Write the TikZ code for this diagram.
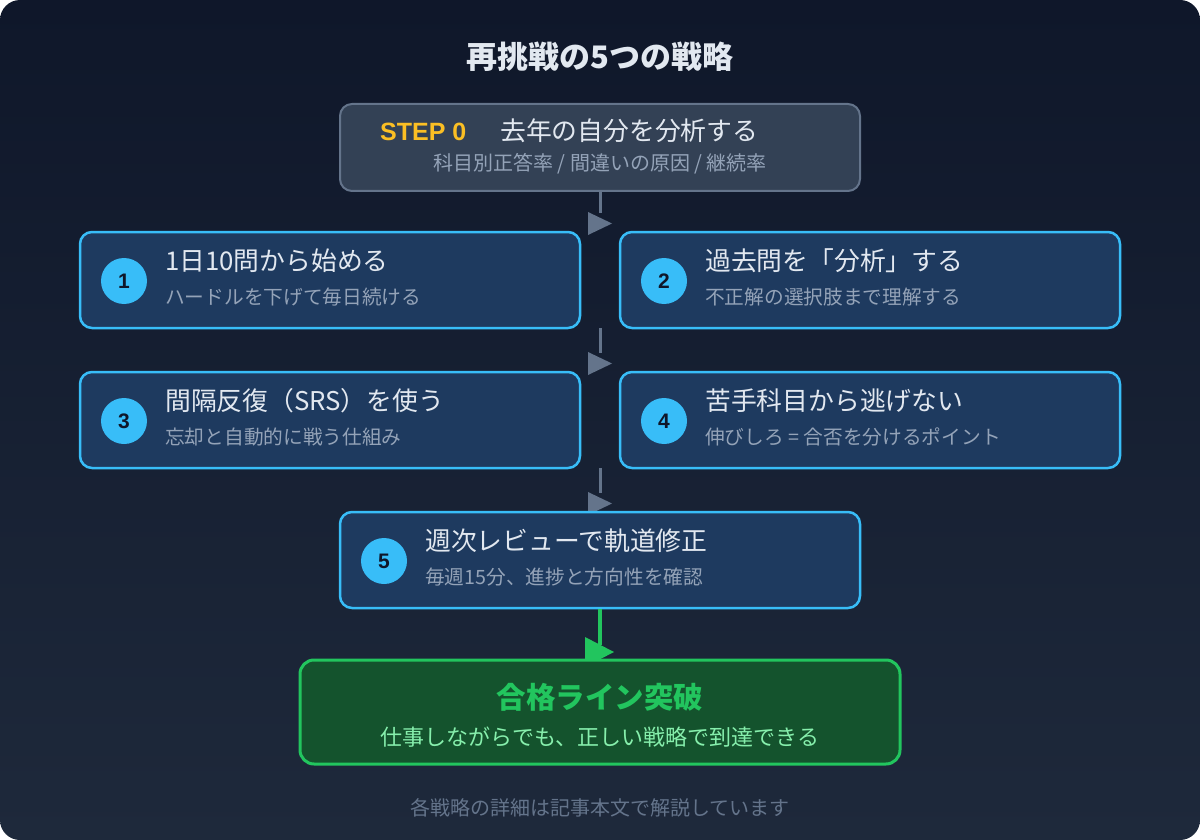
\documentclass[tikz,border=0pt]{standalone}
\usepackage{fontspec}
\setmainfont{Noto Sans CJK JP}
\newfontfamily\latinfont{Liberation Sans}
\definecolor{bgtop}{HTML}{0F172A}
\definecolor{bgbot}{HTML}{1E293B}
\definecolor{slatebox}{HTML}{334155}
\definecolor{slateline}{HTML}{64748B}
\definecolor{cardfill}{HTML}{1E3A5F}
\definecolor{sky}{HTML}{38BDF8}
\definecolor{txtmain}{HTML}{E2E8F0}
\definecolor{txtsub}{HTML}{94A3B8}
\definecolor{txtfoot}{HTML}{64748B}
\definecolor{amber}{HTML}{FBBF24}
\definecolor{finfill}{HTML}{14532D}
\definecolor{green}{HTML}{22C55E}
\definecolor{lgreen}{HTML}{86EFAC}
\definecolor{darknum}{HTML}{0F172A}
\tikzset{
  stepbox/.style={draw=slateline,fill=slatebox,line width=2pt,rounded corners=12pt,minimum width=520pt,minimum height=87pt,inner sep=0pt},
  card/.style={draw=sky,fill=cardfill,line width=2.5pt,rounded corners=12pt,minimum width=500pt,minimum height=96pt,inner sep=0pt},
  finbox/.style={draw=green,fill=finfill,line width=3pt,rounded corners=14pt,minimum width=600pt,minimum height=104pt,inner sep=0pt},
  numc/.style={circle,fill=sky,minimum size=46pt,inner sep=0pt,text=darknum,font=\latinfont\bfseries\fontsize{21}{21}\selectfont},
  ttl/.style={anchor=west,inner sep=0pt,text=txtmain,font=\fontsize{25.8}{26}\selectfont},
  sub/.style={anchor=west,inner sep=0pt,text=txtsub,font=\fontsize{19.7}{20}\selectfont},
  grayline/.style={draw=slateline,line width=3pt},
  graytri/.style={fill=slateline},
  greenline/.style={draw=green,line width=4pt},
}
\begin{document}
\begin{tikzpicture}[x=1pt,y=-1pt]
\useasboundingbox (0,0) rectangle (1200,840);
\fill[white] (0,0) rectangle (1200,840);
\shade[top color=bgtop,bottom color=bgbot,rounded corners=20pt] (0,0) rectangle (1200,840);

\node[anchor=center,inner sep=0pt,text=txtmain,font=\bfseries\fontsize{31}{31}\selectfont] (title) at (600,57) {再挑戦の5つの戦略};

% step 0
\node[stepbox] (s0) at (600,147.5) {};
\node[anchor=west,inner sep=0pt,text=amber,font=\latinfont\bfseries\fontsize{25}{25}\selectfont] (s0tag) at (380,132) {STEP 0};
\node[ttl] (s0t) at (500,131) {去年の自分を分析する};
\node[anchor=center,inner sep=0pt,text=txtsub,font=\fontsize{20}{20}\selectfont] (s0s) at (600,164) {科目別正答率 / 間違いの原因 / 継続率};

% arrows (drawn under cards)
\coordinate (a1e) at (600,213);
\coordinate (a2s) at (600,328);
\coordinate (a2e) at (600,353);
\coordinate (a3s) at (600,468);
\coordinate (a3e) at (600,493);
\draw[grayline] (s0.south) -- (a1e);
\fill[graytri] (588,212) -- (588,235) -- (612,223.5) -- cycle;
\draw[grayline] (a2s) -- (a2e);
\fill[graytri] (588,352) -- (588,375) -- (612,363.5) -- cycle;
\draw[grayline] (a3s) -- (a3e);
\fill[graytri] (588,492) -- (588,515) -- (612,503.5) -- cycle;

% cards
\node[card] (b1) at (330,280) {};
\node[numc] (n1) at (124,281) {1};
\node[ttl] (t1) at (165,261) {1日10問から始める};
\node[sub] (u1) at (165,297) {ハードルを下げて毎日続ける};

\node[card] (b2) at (870,280) {};
\node[numc] (n2) at (664,281) {2};
\node[ttl] (t2) at (705,261) {過去問を「分析」する};
\node[sub] (u2) at (705,297) {不正解の選択肢まで理解する};

\node[card] (b3) at (330,420) {};
\node[numc] (n3) at (124,421) {3};
\node[ttl] (t3) at (165,401) {間隔反復（SRS）を使う};
\node[sub] (u3) at (165,437) {忘却と自動的に戦う仕組み};

\node[card] (b4) at (870,420) {};
\node[numc] (n4) at (664,421) {4};
\node[ttl] (t4) at (705,401) {苦手科目から逃げない};
\node[sub] (u4) at (705,437) {伸びしろ = 合否を分けるポイント};

\node[card,minimum width=520pt] (b5) at (600,560) {};
\node[numc] (n5) at (384,561) {5};
\node[ttl] (t5) at (425,541) {週次レビューで軌道修正};
\node[sub] (u5) at (425,577) {毎週15分、進捗と方向性を確認};

% green arrow
\coordinate (g1) at (600,645);
\draw[greenline] (b5.south) -- (g1);
\fill[green] (585,637) -- (585,667) -- (614,652) -- cycle;

% final
\node[finbox] (fin) at (600,712) {};
\node[anchor=center,inner sep=0pt,text=green,font=\bfseries\fontsize{29.5}{29.5}\selectfont] (fint) at (600,697) {合格ライン突破};
\node[anchor=center,inner sep=0pt,text=lgreen,font=\fontsize{22}{22}\selectfont] (fins) at (600,737) {仕事しながらでも、正しい戦略で到達できる};

\node[anchor=center,inner sep=0pt,text=txtfoot,font=\fontsize{20}{20}\selectfont] (foot) at (600,808) {各戦略の詳細は記事本文で解説しています};
\end{tikzpicture}
\end{document}
